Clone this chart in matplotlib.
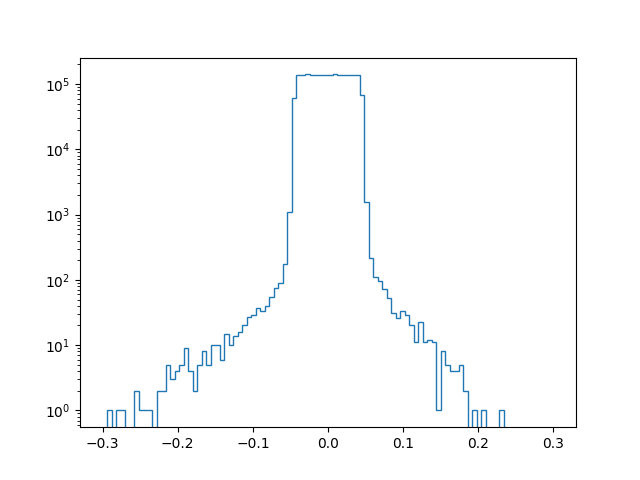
import numpy as np
import matplotlib
matplotlib.use("Agg")
import matplotlib.pyplot as plt

# histogram range and bin count
x_min, x_max, n_bins = -0.3, 0.3, 100

# counts per bin (left to right)
counts = [
    0, 1, 0, 1, 1, 0, 0, 2, 1, 1,
    1, 0, 2, 2, 5, 3, 4, 5, 9, 4,
    2, 5, 8, 5, 10, 10, 6, 15, 10, 14,
    16, 20, 27, 29, 37, 33, 40, 55, 75, 88,
    177, 1090, 60400, 137000, 137000, 140500, 137000, 137000, 137000, 137000,
    137000, 140500, 137000, 137000, 137000, 137000, 137000, 68700, 1550, 218,
    112, 96, 73, 53, 31, 26, 33, 29, 20, 11,
    23, 11, 12, 11, 1, 8, 5, 4, 4, 5,
    2, 0, 1, 0, 1, 0, 0, 0, 1, 0,
    0, 0, 0, 0, 0, 0, 0, 0, 0, 0,
]

edges = np.linspace(x_min, x_max, n_bins + 1)
centers = 0.5 * (edges[:-1] + edges[1:])

fig, ax = plt.subplots(figsize=(6.4, 4.8), dpi=100)
ax.hist(centers, bins=edges, weights=counts, histtype='step', log=True)
fig.savefig("out.png")
